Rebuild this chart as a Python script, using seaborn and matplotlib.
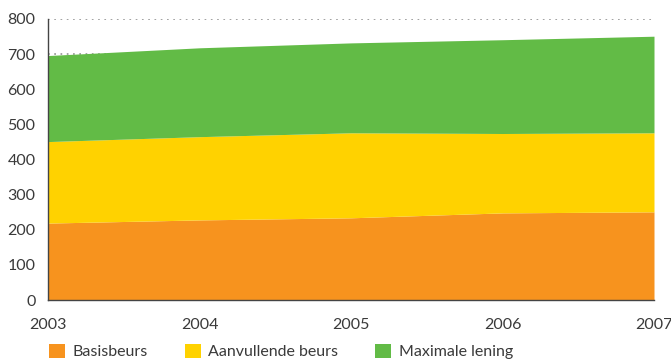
import matplotlib
matplotlib.use("Agg")
import matplotlib.pyplot as plt
import seaborn as sns
import numpy as np
from matplotlib.patches import Patch

years = [2003, 2004, 2005, 2006, 2007]
basisbeurs = [219, 228, 234, 248, 251]
aanvullende = [232, 237, 242, 226, 225]
maximale = [245, 253, 256, 267, 275]
labels = ["Basisbeurs", "Aanvullende beurs", "Maximale lening"]
colors = ["#F7931E", "#FFD200", "#62BB46"]
yticks = [0, 100, 200, 300, 400, 500, 600, 700, 800]

sns.set_style("white")
plt.rcParams['font.family'] = ['Lato', 'DejaVu Sans']
text_color = "#3a3a3a"

fig = plt.figure(figsize=(6.71, 3.61), dpi=100)
ax = fig.add_axes([48/671, 1-300/361, (654-48)/671, (300-19)/361])

for yv in yticks[1:]:
    ax.axhline(yv, color="#888888", lw=1.1, ls=(0, (1.1, 3.0)), zorder=0)

ax.stackplot(years, basisbeurs, aanvullende, maximale, colors=colors,
             labels=labels, zorder=2, linewidth=0)

ax.set_xlim(2003, 2007)
ax.set_ylim(0, 800)
ax.set_xticks(years)
ax.set_yticks(yticks)
ax.tick_params(axis="both", direction="out", length=5, width=1,
               color="#444444", labelcolor=text_color, labelsize=11.5, pad=4)
ax.tick_params(axis="x", pad=8)
for s in ["top", "right"]:
    ax.spines[s].set_visible(False)
for s in ["left", "bottom"]:
    ax.spines[s].set_color("#444444")
    ax.spines[s].set_linewidth(1)
    ax.spines[s].set_zorder(3)

handles = [Patch(facecolor=c, edgecolor="none") for c in colors]
fig.legend(handles, labels, loc="lower left", bbox_to_anchor=(47/671, 0.0),
           ncol=3, frameon=False, fontsize=11.5, handlelength=1.0, handleheight=1.0,
           handletextpad=0.5, columnspacing=2.3, labelcolor=text_color,
           borderpad=0, borderaxespad=0.1)

fig.savefig("out.png", dpi=100)
